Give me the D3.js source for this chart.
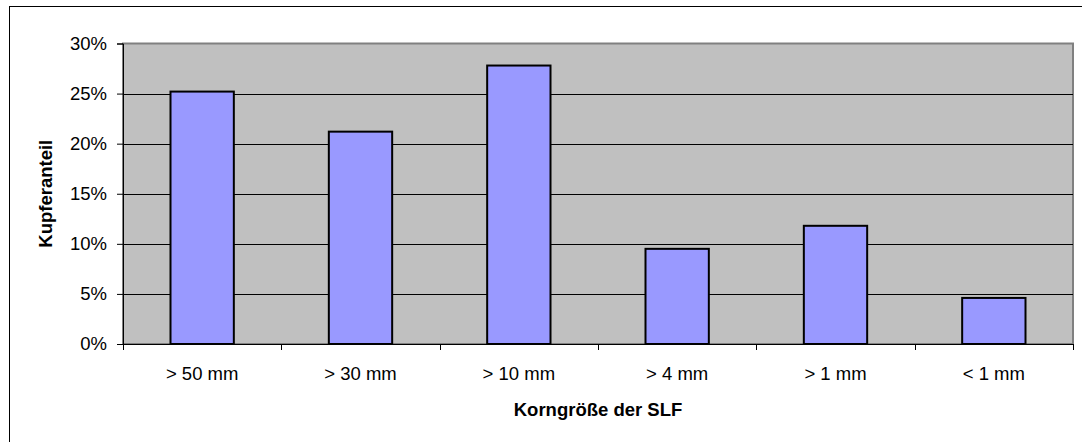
<!DOCTYPE html>
<html>
<head>
<meta charset="utf-8">
<script src="https://cdn.jsdelivr.net/npm/d3@7"></script>
<style>
  html, body { margin: 0; padding: 0; background: #fff; }
  svg { display: block; font-family: "Liberation Sans", Arial, sans-serif; }
</style>
</head>
<body>
<svg id="chart" width="1082" height="442"></svg>
<script>
// Copper share per grain-size class
const categories = ["> 50 mm", "> 30 mm", "> 10 mm", "> 4 mm", "> 1 mm", "< 1 mm"];
const shares = [0.252, 0.212, 0.278, 0.095, 0.118, 0.046];
const yTicks = [0, 0.05, 0.10, 0.15, 0.20, 0.25, 0.30];
const xTitle = "Korngröße der SLF";
const yTitle = "Kupferanteil";

const svg = d3.select("#chart");
const plot = { left: 123, top: 43.5, right: 1073, bottom: 344 };
const fontSize = 18.5;

// Outer frame
svg.append("rect")
  .attr("x", 9.5).attr("y", 6.5)
  .attr("width", 1080).attr("height", 440)
  .attr("fill", "#fff").attr("stroke", "#000").attr("stroke-width", 1);

const x = d3.scaleBand().domain(categories)
  .range([plot.left, plot.right]).paddingInner(0.6).paddingOuter(0.3);
const band = d3.scaleBand().domain(categories).range([plot.left, plot.right]);
const y = d3.scaleLinear().domain([0, 0.30]).range([plot.bottom, plot.top]);

// Plot background
svg.append("rect")
  .attr("x", plot.left).attr("y", plot.top)
  .attr("width", plot.right - plot.left).attr("height", plot.bottom - plot.top)
  .attr("fill", "#c0c0c0").attr("stroke", "#808080").attr("stroke-width", 2);

// Gridlines
svg.append("g").selectAll("line").data(yTicks.filter(t => t > 0 && t < 0.30))
  .join("line")
  .attr("x1", plot.left).attr("x2", plot.right)
  .attr("y1", d => Math.round(y(d)) + 0.5).attr("y2", d => Math.round(y(d)) + 0.5)
  .attr("stroke", "#000").attr("stroke-width", 1);

// Bars
svg.append("g").selectAll("rect").data(shares)
  .join("rect")
  .attr("x", (d, i) => x(categories[i]))
  .attr("y", d => y(d))
  .attr("width", x.bandwidth())
  .attr("height", d => y(0) - y(d))
  .attr("fill", "#9999ff").attr("stroke", "#000").attr("stroke-width", 2);

// Y axis
const yAxis = svg.append("g")
  .attr("transform", `translate(${plot.left},0)`)
  .call(d3.axisLeft(y).tickValues(yTicks).tickFormat(d3.format(".0%")).tickSizeOuter(0).tickSize(6).tickPadding(10));
yAxis.select(".domain").attr("stroke", "#000");
yAxis.selectAll("text").attr("font-size", fontSize).attr("fill", "#000");

// X axis with ticks at category boundaries
const xAxisG = svg.append("g").attr("transform", `translate(0,${plot.bottom})`);
xAxisG.append("line")
  .attr("x1", plot.left).attr("x2", plot.right)
  .attr("y1", 0.5).attr("y2", 0.5).attr("stroke", "#000");
const boundaries = categories.map(c => band(c)).concat([plot.right]);
xAxisG.selectAll(".tick").data(boundaries).join("line")
  .attr("x1", d => Math.round(d) + 0.5).attr("x2", d => Math.round(d) + 0.5)
  .attr("y1", 0).attr("y2", 6).attr("stroke", "#000");
xAxisG.selectAll("text").data(categories).join("text")
  .attr("x", d => band(d) + band.bandwidth() / 2)
  .attr("y", 36)
  .attr("text-anchor", "middle")
  .attr("font-size", fontSize)
  .text(d => d);

// Axis titles
svg.append("text")
  .attr("x", (plot.left + plot.right) / 2).attr("y", 416)
  .attr("text-anchor", "middle").attr("font-size", fontSize).attr("font-weight", "bold")
  .text(xTitle);
svg.append("text")
  .attr("transform", `translate(52,${(plot.top + plot.bottom) / 2}) rotate(-90)`)
  .attr("text-anchor", "middle").attr("font-size", fontSize).attr("font-weight", "bold")
  .text(yTitle);
</script>
</body>
</html>
